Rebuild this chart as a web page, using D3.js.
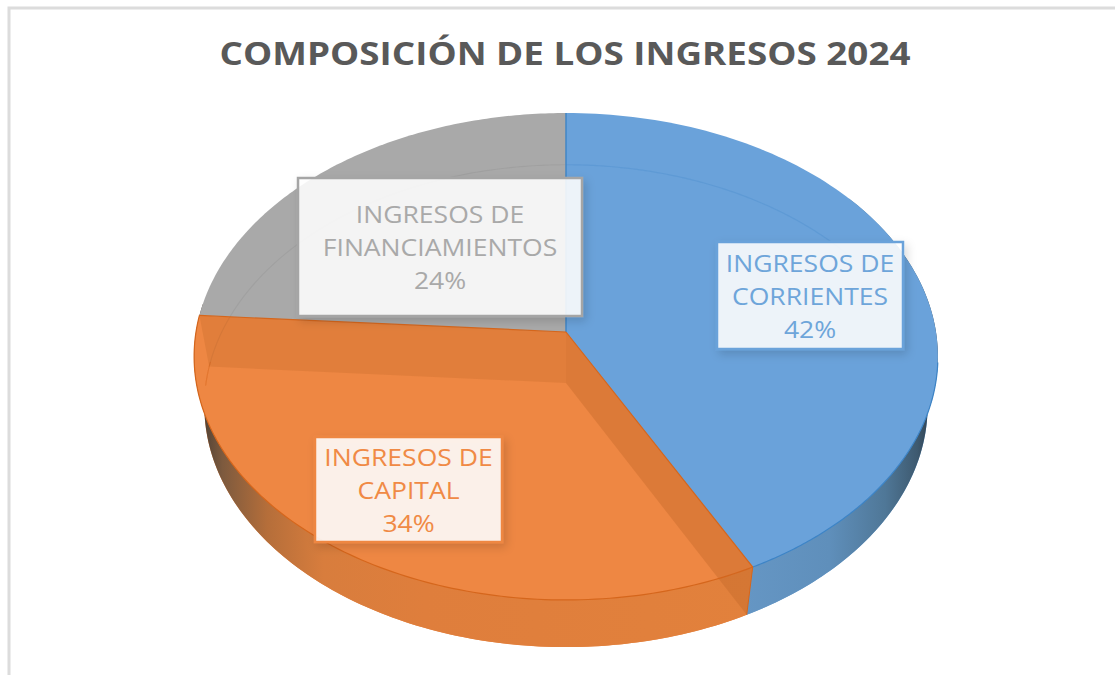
<!DOCTYPE html>
<html lang="es">
<head>
<meta charset="utf-8">
<script src="https://cdn.jsdelivr.net/npm/d3@7"></script>
<style>
html,body{margin:0;padding:0;background:#fff;overflow:hidden}
svg{display:block}
text{font-family:"Open Sans",sans-serif}
</style>
</head>
<body>
<svg id="c" width="1115" height="675"></svg>
<script>
const titleText = "COMPOSICIÓN DE LOS INGRESOS 2024";
const categories = ["INGRESOS DE CORRIENTES", "INGRESOS DE CAPITAL", "INGRESOS DE FINANCIAMIENTOS"];
const values = [42.4, 33.7, 23.9];
const labelLines = [["INGRESOS DE", "CORRIENTES"], ["INGRESOS DE", "CAPITAL"], ["INGRESOS DE", "FINANCIAMIENTOS"]];
const faceColors = ["#6aa2da", "#ee8743", "#a9a9a9"];
const edgeColors = ["#3d84c6", "#d5661c", "#9a9a9a"];
const textColors = ["#6ea5da", "#f08a45", "#a9a9a9"];
const boxStrokes = ["#6aa2da", "#ee8743", "#a5a5a5"];
const labelBoxes = [[717, 242, 186, 107], [315, 437, 187, 105], [298, 178, 284, 138]];
const textStretch = 1.115;

const svg = d3.select("#c");
const defs = svg.append("defs");

// Perspective discs: top and bottom faces of the pie
const topDisc = {cx: 566, cy: 332, b: 370, a: 241, p: 0.1006};
const botDisc = {cx: 566, cy: 383, b: 360, a: 239, p: 0.095};
function project(d, th, r = 1) {
  const u = r * Math.sin(th), v = -r * Math.cos(th);
  const w = 1 / (1 - d.p * v);
  return [d.cx + d.b * u * w, d.cy + d.a * v * w];
}
const pie = d3.pie().sort(null).startAngle(0).endAngle(2 * Math.PI);
const arcs = pie(values);
const line = d3.line().curve(d3.curveLinearClosed);
const TAU = 2 * Math.PI;
function angles(a0, a1) { return d3.range(0, 121).map(i => a0 + (a1 - a0) * i / 120); }
function sector(d, a) {
  return line([[d.cx, d.cy], ...angles(a.startAngle, a.endAngle).map(t => project(d, t))]);
}
function wallPath(a0, a1) {
  const as = angles(a0, a1);
  return line([...as.map(t => project(topDisc, t)), ...as.slice().reverse().map(t => project(botDisc, t))]);
}
function radial(th) {
  return line([[topDisc.cx, topDisc.cy], project(topDisc, th), project(botDisc, th), [botDisc.cx, botDisc.cy]]);
}
function rimOpen(d, a0, a1) { return d3.line()(angles(a0, a1).map(t => project(d, t))); }

// gradients for outer wall shading
const gradO = defs.append("linearGradient").attr("id", "wo").attr("gradientUnits", "userSpaceOnUse")
  .attr("x1", 200).attr("x2", 760).attr("y1", 0).attr("y2", 0);
[[0, "#4a3e34"], [0.04, "#7d5a3e"], [0.12, "#b56e3a"], [0.22, "#d87d3d"], [0.4, "#df7e3c"], [1, "#e2813c"]]
  .forEach(s => gradO.append("stop").attr("offset", s[0]).attr("stop-color", s[1]));
const gradB = defs.append("linearGradient").attr("id", "wb").attr("gradientUnits", "userSpaceOnUse")
  .attr("x1", 745).attr("x2", 932).attr("y1", 0).attr("y2", 0);
[[0, "#6596c4"], [0.45, "#5f8fbb"], [0.75, "#4f7797"], [0.92, "#3e5a70"], [1, "#2e3f4e"]]
  .forEach(s => gradB.append("stop").attr("offset", s[0]).attr("stop-color", s[1]));
const blur = defs.append("filter").attr("id", "sh").attr("x", "-15%").attr("y", "-15%").attr("width", "130%").attr("height", "130%");
blur.append("feDropShadow").attr("dx", 3).attr("dy", 4).attr("stdDeviation", 5).attr("flood-color", "#000").attr("flood-opacity", 0.16);

// frame
svg.append("path").attr("d", d3.line()([[9, 675], [9, 8], [1115, 8]]))
  .attr("fill", "none").attr("stroke", "#dcdcdc").attr("stroke-width", 3);

// title
svg.append("text").attr("transform", `translate(565,65) scale(${textStretch},1)`).attr("text-anchor", "middle")
  .attr("font-size", 33).attr("font-weight", 700).attr("fill", "#595959").text(titleText);

// bottom face
svg.append("g").selectAll("path").data(arcs).join("path")
  .attr("d", a => sector(botDisc, a)).attr("fill", (a, i) => faceColors[i]);

// outer wall (front half)
const split = arcs[0].endAngle;
svg.append("path").attr("d", wallPath(TAU * 0.15, split)).attr("fill", "url(#wb)");
svg.append("path").attr("d", wallPath(split, arcs[1].endAngle + 0.05)).attr("fill", "url(#wo)");

// top face
svg.append("g").selectAll("path").data(arcs).join("path")
  .attr("d", a => sector(topDisc, a)).attr("fill", (a, i) => faceColors[i]);

// translucent radial walls seen through the top
svg.append("path").attr("d", radial(arcs[1].startAngle)).attr("fill", "#c46a2c").attr("fill-opacity", 0.42);
svg.append("path").attr("d", radial(arcs[1].endAngle)).attr("fill", "#c46a2c").attr("fill-opacity", 0.3);

// faint bottom rim seen through the top
svg.append("path").attr("d", rimOpen(botDisc, arcs[2].startAngle, TAU)).attr("fill", "none")
  .attr("stroke", "#000").attr("stroke-opacity", 0.05).attr("stroke-width", 1.2);
svg.append("path").attr("d", rimOpen(botDisc, 0, TAU * 0.16)).attr("fill", "none")
  .attr("stroke", "#3d84c6").attr("stroke-opacity", 0.25).attr("stroke-width", 1.2);
svg.append("path").attr("d", rimOpen(botDisc, arcs[1].endAngle - 0.08, arcs[1].endAngle + 0.02)).attr("fill", "none")
  .attr("stroke", "#d5661c").attr("stroke-opacity", 0.6).attr("stroke-width", 1);

// edges of the top face
svg.append("g").selectAll("path").data(arcs.slice(0, 2)).join("path")
  .attr("d", a => rimOpen(topDisc, a.index === 0 ? TAU * 0.27 : a.startAngle, a.endAngle))
  .attr("fill", "none").attr("stroke", (a, i) => edgeColors[i]).attr("stroke-width", 1.2);
svg.append("path").attr("d", d3.line()([[topDisc.cx, topDisc.cy], project(topDisc, 0)]))
  .attr("stroke", edgeColors[0]).attr("stroke-width", 1.4);
svg.append("path").attr("d", d3.line()([[topDisc.cx, topDisc.cy], project(topDisc, split)]))
  .attr("stroke", edgeColors[1]).attr("stroke-width", 1.2);
svg.append("path").attr("d", d3.line()([project(topDisc, split), project(botDisc, split)]))
  .attr("stroke", edgeColors[1]).attr("stroke-width", 1);
svg.append("path").attr("d", d3.line()([[topDisc.cx, topDisc.cy], project(topDisc, arcs[1].endAngle)]))
  .attr("stroke", edgeColors[1]).attr("stroke-width", 1.2);

// labels
const lab = svg.append("g").selectAll("g").data(arcs).join("g");
lab.append("rect")
  .attr("x", (a, i) => labelBoxes[i][0]).attr("y", (a, i) => labelBoxes[i][1])
  .attr("width", (a, i) => labelBoxes[i][2]).attr("height", (a, i) => labelBoxes[i][3])
  .attr("fill", "#fff").attr("fill-opacity", 0.875)
  .attr("stroke", (a, i) => boxStrokes[i]).attr("stroke-width", 2.5)
  .attr("filter", "url(#sh)");
lab.each(function (a, i) {
  const b = labelBoxes[i];
  const cx = b[0] + b[2] / 2, first = b[1] + b[3] / 2 - 24;
  const rows = [...labelLines[i], Math.round(a.value) + "%"];
  d3.select(this).selectAll("text").data(rows).join("text")
    .attr("transform", (r, k) => `translate(${cx},${first + k * 33}) scale(${textStretch},1)`)
    .attr("text-anchor", "middle").attr("font-size", 23.8)
    .attr("fill", textColors[i]).text(r => r);
});
</script>
</body>
</html>
